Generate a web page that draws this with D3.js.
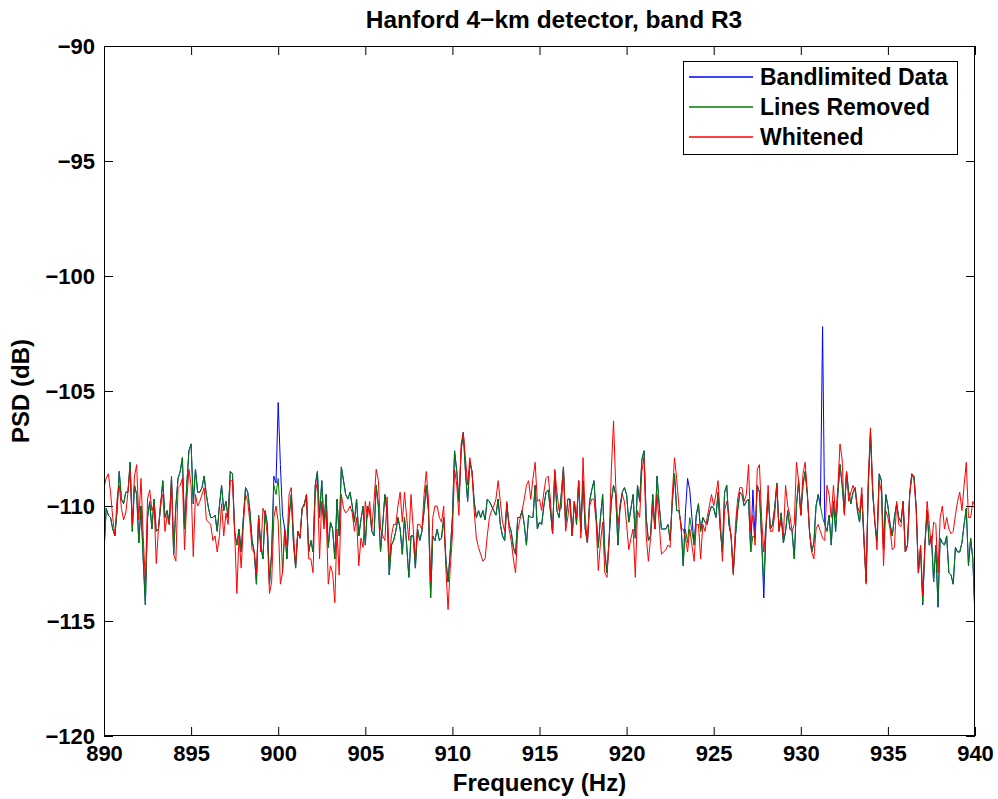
<!DOCTYPE html>
<html>
<head>
<meta charset="utf-8">
<script src="https://cdn.jsdelivr.net/npm/d3@7"></script>
<style>
  body { margin: 0; background: #fff; }
  svg { display: block; }
  text { font-family: "Liberation Sans", Arial, Helvetica, sans-serif; font-weight: bold; fill: #000; }
</style>
</head>
<body>
<svg id="chart" width="998" height="799"></svg>
<script>
// Spectrum grid: 1/8 Hz bins from 890 Hz to 940 Hz
const freqStart = 890;
const freqStep = 0.125;

// PSD (dB) of the band-limited strain data
const bandlimited = [
  -112.0,-110.1,-110.4,-110.5,-111.0,-111.3,-110.2,-108.5,-109.7,-109.9,
  -109.4,-109.4,-108.1,-111.1,-109.1,-109.5,-111.6,-110.0,-112.3,-114.3,
  -110.5,-109.8,-111.0,-109.7,-111.1,-111.0,-110.0,-108.9,-110.5,-110.2,
  -110.8,-108.7,-112.1,-110.0,-108.8,-108.5,-107.9,-111.0,-109.1,-107.6,
  -107.3,-109.9,-108.4,-109.4,-109.4,-109.2,-108.7,-109.5,-110.1,-110.5,
  -110.5,-110.4,-111.1,-110.0,-109.1,-110.2,-109.8,-110.5,-108.5,-108.6,
  -111.1,-111.7,-111.0,-112.0,-110.5,-109.2,-109.4,-110.2,-111.5,-112.0,
  -113.4,-110.4,-111.7,-112.3,-110.2,-110.8,-113.4,-112.0,-108.7,-109.0,
  -105.5,-108.2,-110.4,-111.0,-112.3,-110.5,-109.5,-111.6,-112.7,-111.1,
  -111.4,-110.1,-109.9,-109.5,-112.0,-111.5,-112.0,-109.1,-108.5,-110.5,
  -108.9,-110.8,-109.5,-111.8,-110.7,-111.0,-112.3,-109.7,-111.3,-108.3,
  -108.9,-109.5,-109.7,-109.4,-110.0,-110.7,-109.7,-111.3,-110.6,-110.0,
  -111.7,-110.0,-110.2,-111.1,-111.3,-109.1,-110.0,-112.0,-110.8,-109.5,
  -110.3,-113.0,-111.7,-111.5,-111.1,-110.5,-111.0,-112.1,-110.5,-111.7,
  -113.1,-111.3,-111.3,-112.7,-111.0,-111.5,-111.1,-110.2,-109.1,-110.2,
  -114.0,-111.3,-111.5,-111.0,-111.5,-111.4,-110.5,-112.3,-113.3,-112.0,
  -110.5,-107.6,-108.5,-109.8,-107.6,-106.8,-108.5,-109.8,-108.1,-108.5,
  -109.8,-110.5,-110.2,-110.5,-110.2,-110.6,-109.7,-109.8,-110.0,-110.2,
  -110.4,-109.7,-110.8,-111.3,-111.5,-109.9,-110.8,-111.1,-111.8,-112.1,
  -110.5,-110.5,-110.2,-110.8,-111.7,-110.4,-110.5,-110.5,-109.1,-111.0,
  -110.7,-110.8,-110.0,-109.4,-109.3,-110.2,-111.2,-108.5,-110.2,-110.5,
  -109.5,-108.3,-110.8,-109.7,-109.7,-111.3,-109.8,-110.8,-108.9,-111.1,
  -108.9,-111.0,-111.6,-109.8,-109.3,-108.9,-110.4,-111.8,-110.5,-109.5,
  -112.0,-112.9,-111.4,-109.8,-109.1,-109.5,-111.7,-110.0,-109.4,-109.2,
  -109.5,-110.7,-110.1,-109.5,-111.4,-109.1,-109.8,-108.0,-107.6,-110.5,
  -111.5,-111.3,-109.5,-111.0,-108.7,-110.0,-111.0,-111.0,-111.0,-110.8,
  -111.5,-109.8,-108.6,-110.2,-110.2,-110.8,-112.6,-110.3,-108.8,-109.3,
  -110.5,-111.7,-110.4,-109.9,-111.1,-110.5,-110.7,-110.8,-110.3,-110.0,
  -110.1,-110.5,-109.4,-111.0,-112.0,-109.4,-109.1,-110.8,-111.3,-112.9,
  -111.3,-110.2,-109.4,-109.5,-110.0,-109.8,-109.7,-112.0,-109.3,-111.4,
  -109.1,-109.4,-111.4,-114.0,-111.0,-109.5,-111.0,-110.8,-110.1,-109.0,
  -111.1,-110.3,-111.6,-111.1,-110.2,-111.0,-111.1,-112.3,-110.0,-108.9,
  -110.4,-109.1,-108.5,-109.5,-111.1,-112.0,-111.6,-110.0,-109.5,-110.0,
  -102.2,-110.8,-111.1,-110.4,-111.7,-109.8,-111.1,-109.5,-108.2,-109.1,
  -110.3,-108.5,-109.4,-109.9,-109.4,-109.2,-110.2,-110.7,-109.5,-111.5,
  -113.3,-109.1,-106.8,-109.4,-110.7,-111.5,-108.6,-108.9,-111.9,-109.5,
  -110.0,-110.8,-111.3,-110.5,-109.9,-110.5,-110.7,-109.8,-112.0,-111.7,
  -109.5,-108.6,-108.7,-110.1,-112.9,-111.8,-114.3,-111.7,-110.2,-111.7,
  -111.3,-113.3,-111.7,-114.4,-111.4,-111.6,-111.7,-111.3,-112.9,-113.0,
  -113.4,-111.8,-112.0,-112.0,-111.6,-110.8,-110.1,-112.6,-111.4,-112.3,
  -114.9
];

// PSD (dB) after removal of the instrumental lines
const linesRemoved = [
  -112.0,-110.1,-110.4,-110.5,-111.0,-111.3,-110.2,-108.5,-109.7,-109.9,
  -109.4,-109.4,-108.1,-111.1,-109.1,-109.5,-111.6,-110.0,-112.3,-114.3,
  -110.5,-109.8,-111.0,-109.7,-111.1,-111.0,-110.0,-108.9,-110.5,-110.2,
  -110.8,-108.7,-112.1,-110.0,-108.8,-108.5,-107.9,-111.0,-109.1,-107.6,
  -107.3,-109.9,-108.4,-109.4,-109.4,-109.2,-108.7,-109.5,-110.1,-110.5,
  -110.5,-110.4,-111.1,-110.0,-109.1,-110.2,-109.8,-110.5,-108.5,-108.6,
  -111.1,-111.7,-111.0,-112.0,-110.5,-109.2,-109.4,-110.2,-111.5,-112.0,
  -113.4,-110.4,-111.7,-112.3,-110.2,-110.8,-113.4,-112.0,-109.1,-109.5,
  -108.8,-110.5,-112.9,-111.0,-112.3,-110.5,-109.5,-111.6,-112.7,-111.1,
  -111.4,-110.1,-109.9,-109.5,-112.0,-111.5,-112.0,-109.1,-108.5,-110.5,
  -108.9,-110.8,-109.5,-111.8,-110.7,-111.0,-112.3,-109.7,-111.3,-108.3,
  -108.9,-109.5,-109.7,-109.4,-110.0,-110.7,-109.7,-111.3,-110.6,-110.0,
  -111.7,-110.0,-110.2,-111.1,-111.3,-109.1,-110.0,-112.0,-110.8,-109.5,
  -110.3,-113.0,-111.7,-111.5,-111.1,-110.5,-111.0,-112.1,-110.5,-111.7,
  -113.1,-111.3,-111.3,-112.7,-111.0,-111.5,-111.1,-110.2,-109.1,-110.2,
  -114.0,-111.3,-111.5,-111.0,-111.5,-111.4,-110.5,-112.3,-113.3,-112.0,
  -110.5,-107.6,-108.5,-109.8,-107.6,-106.8,-108.5,-109.8,-108.1,-108.5,
  -109.8,-110.5,-110.2,-110.5,-110.2,-110.6,-109.7,-109.8,-110.0,-110.2,
  -110.4,-109.7,-110.8,-111.3,-111.5,-109.9,-110.8,-111.1,-111.8,-112.1,
  -110.5,-110.5,-110.2,-110.8,-111.7,-110.4,-110.5,-110.5,-109.1,-111.0,
  -110.7,-110.8,-110.0,-109.4,-109.3,-110.2,-111.2,-108.5,-110.2,-110.5,
  -109.5,-108.3,-110.8,-109.7,-109.7,-111.3,-109.8,-110.8,-108.9,-111.1,
  -108.9,-111.0,-111.6,-109.8,-109.3,-108.9,-110.4,-111.8,-110.5,-109.5,
  -112.0,-112.9,-111.4,-109.8,-109.1,-109.5,-111.7,-110.0,-109.4,-109.2,
  -109.5,-110.7,-110.1,-109.5,-111.4,-109.1,-109.8,-108.0,-107.6,-110.5,
  -111.5,-111.3,-109.5,-111.0,-108.7,-110.0,-111.0,-111.0,-111.0,-110.8,
  -111.5,-109.8,-108.6,-110.2,-110.2,-110.8,-112.6,-111.0,-111.6,-110.5,
  -111.1,-111.7,-110.4,-109.9,-111.1,-110.5,-110.7,-110.8,-110.3,-110.0,
  -110.1,-110.5,-109.4,-111.0,-112.0,-109.4,-109.1,-110.8,-111.3,-112.9,
  -111.3,-110.2,-109.4,-109.5,-110.0,-109.8,-109.7,-112.0,-111.3,-111.4,
  -109.1,-109.4,-111.4,-113.4,-111.0,-109.5,-111.0,-110.8,-110.1,-109.0,
  -111.1,-110.3,-111.6,-111.1,-110.2,-111.0,-111.1,-112.3,-110.0,-108.9,
  -110.4,-109.1,-108.5,-109.5,-111.1,-112.0,-111.6,-110.0,-109.5,-110.0,
  -110.5,-110.8,-111.1,-110.4,-111.7,-109.8,-111.1,-109.5,-108.2,-109.1,
  -110.3,-108.5,-109.4,-109.9,-109.4,-109.2,-110.2,-110.7,-109.5,-111.5,
  -113.3,-109.1,-106.8,-109.4,-110.7,-111.5,-108.6,-108.9,-111.9,-109.5,
  -110.0,-110.8,-111.3,-110.5,-109.9,-110.5,-110.7,-109.8,-112.0,-111.7,
  -109.5,-108.6,-108.7,-110.1,-112.9,-111.8,-114.2,-111.7,-110.2,-111.7,
  -111.3,-113.3,-111.7,-114.3,-111.4,-111.6,-111.7,-111.3,-112.9,-113.0,
  -113.4,-111.8,-112.0,-112.0,-111.6,-110.8,-110.1,-112.6,-111.4,-112.3,
  -114.8
];

// PSD (dB) of the whitened data
const whitened = [
  -109.2,-108.8,-108.6,-109.4,-110.5,-111.3,-109.7,-109.1,-110.1,-110.6,
  -110.3,-109.4,-108.4,-110.8,-108.7,-108.2,-110.6,-108.8,-111.3,-113.3,
  -109.7,-109.3,-110.2,-109.9,-112.5,-111.0,-109.8,-109.5,-111.1,-110.4,
  -110.8,-108.9,-112.1,-112.4,-109.2,-109.1,-108.8,-111.9,-109.8,-108.4,
  -109.1,-112.2,-109.5,-110.0,-109.8,-109.5,-109.2,-110.6,-110.7,-110.8,
  -111.5,-111.3,-112.0,-111.3,-109.9,-111.3,-110.3,-110.8,-108.9,-108.9,
  -111.1,-113.8,-111.3,-112.7,-110.8,-109.5,-109.8,-110.7,-111.9,-112.0,
  -112.9,-110.5,-112.0,-110.1,-110.4,-111.3,-113.8,-113.3,-110.5,-110.0,
  -110.7,-113.4,-112.9,-111.0,-111.7,-109.5,-109.2,-111.1,-112.6,-111.1,
  -111.4,-110.1,-110.0,-109.5,-112.3,-112.3,-112.9,-109.5,-108.9,-112.3,
  -109.8,-111.0,-110.2,-113.4,-112.6,-112.9,-114.2,-111.0,-113.0,-109.5,
  -110.1,-110.3,-110.2,-110.0,-110.3,-111.1,-110.5,-112.6,-111.4,-111.8,
  -109.8,-110.5,-109.8,-111.0,-109.8,-108.4,-108.9,-111.0,-111.3,-111.5,
  -109.6,-112.4,-111.3,-110.8,-110.8,-110.0,-109.4,-110.7,-109.4,-110.5,
  -111.5,-109.5,-111.0,-112.3,-110.8,-110.8,-111.0,-109.5,-108.5,-109.7,
  -113.3,-110.5,-110.0,-110.0,-110.5,-110.7,-110.0,-112.7,-114.5,-112.7,
  -111.3,-108.4,-109.1,-110.4,-107.3,-106.8,-107.9,-109.1,-107.9,-108.5,
  -110.2,-111.4,-111.8,-112.1,-112.4,-112.3,-111.3,-110.5,-110.2,-110.0,
  -109.7,-108.9,-109.8,-110.7,-111.1,-109.8,-111.0,-111.5,-112.3,-112.9,
  -111.1,-110.6,-110.2,-109.7,-109.1,-108.9,-109.7,-108.8,-108.1,-109.8,
  -109.7,-110.2,-109.4,-108.8,-108.7,-109.7,-111.2,-108.4,-109.4,-110.2,
  -110.1,-108.4,-111.1,-110.5,-109.7,-111.3,-109.8,-110.5,-108.9,-111.4,
  -107.9,-110.5,-111.6,-110.0,-109.7,-109.7,-110.7,-112.8,-111.6,-110.7,
  -112.9,-113.1,-111.4,-108.4,-106.3,-109.1,-110.8,-110.1,-109.5,-109.8,
  -110.8,-111.9,-111.4,-111.0,-113.1,-110.2,-110.5,-108.5,-107.9,-111.3,
  -112.4,-111.4,-110.0,-111.0,-109.5,-110.8,-112.1,-112.0,-111.9,-111.7,
  -111.8,-109.5,-107.9,-108.8,-110.0,-111.0,-111.0,-111.4,-112.0,-111.0,
  -111.7,-112.4,-110.8,-110.8,-112.3,-110.8,-111.1,-110.5,-110.0,-109.5,
  -110.0,-109.5,-108.9,-110.5,-112.4,-110.2,-109.8,-110.4,-111.4,-113.0,
  -110.8,-109.7,-109.2,-109.2,-109.8,-109.5,-108.2,-111.1,-110.4,-111.7,
  -108.4,-108.2,-110.5,-112.0,-110.8,-109.1,-111.1,-111.1,-110.4,-109.1,
  -111.1,-110.6,-111.4,-109.1,-110.0,-110.4,-111.1,-110.8,-108.1,-108.9,
  -110.4,-108.6,-108.1,-109.4,-111.1,-112.0,-112.3,-111.0,-110.8,-111.1,
  -111.4,-111.5,-109.1,-109.5,-110.5,-109.1,-110.5,-109.2,-107.3,-108.0,
  -110.4,-108.5,-109.8,-109.4,-109.1,-109.4,-110.0,-110.3,-109.2,-111.3,
  -113.4,-108.8,-106.6,-109.1,-110.7,-111.9,-108.9,-109.4,-112.6,-110.2,
  -110.5,-111.0,-111.9,-111.8,-109.8,-110.8,-110.9,-109.8,-112.0,-111.7,
  -109.5,-108.6,-108.9,-110.1,-112.9,-111.7,-113.9,-111.7,-109.8,-110.8,
  -111.8,-110.7,-110.8,-112.9,-110.5,-110.0,-111.0,-110.5,-111.0,-111.2,
  -111.1,-110.4,-109.8,-109.4,-110.2,-109.1,-108.1,-110.5,-110.5,-109.8,
  -110.0
];

const seriesNames = ["Bandlimited Data", "Lines Removed", "Whitened"];
const seriesColors = ["#0000ff", "#008000", "#ff0000"];
const xTicks = [890, 895, 900, 905, 910, 915, 920, 925, 930, 935, 940];
const yTicks = [-120, -115, -110, -105, -100, -95, -90];

const svg = d3.select("#chart");
const W = 998, H = 799;
const margin = { top: 46, right: 23, bottom: 63, left: 104 };
const pw = W - margin.left - margin.right;
const ph = H - margin.top - margin.bottom;

const x = d3.scaleLinear().domain([890, 940]).range([margin.left, margin.left + pw]);
const y = d3.scaleLinear().domain([-120, -90]).range([margin.top + ph, margin.top]);

const tickFont = 22;
const labelFont = 24;
const legendFont = 23;
const minusFmt = d => String(d).replace("-", "\u2212");

// Axes with inward ticks on all four sides
const gx = svg.append("g").attr("transform", `translate(0,${margin.top + ph})`)
  .call(d3.axisBottom(x).tickValues(xTicks).tickSizeInner(-9).tickSizeOuter(0).tickPadding(9).tickFormat(d3.format("d")));
const gy = svg.append("g").attr("transform", `translate(${margin.left},0)`)
  .call(d3.axisLeft(y).tickValues(yTicks).tickSizeInner(-9).tickSizeOuter(0).tickPadding(9).tickFormat(minusFmt));
const gt = svg.append("g").attr("transform", `translate(0,${margin.top})`)
  .call(d3.axisTop(x).tickValues(xTicks).tickSizeInner(-9).tickSizeOuter(0).tickFormat(""));
const gr = svg.append("g").attr("transform", `translate(${margin.left + pw},0)`)
  .call(d3.axisRight(y).tickValues(yTicks).tickSizeInner(-9).tickSizeOuter(0).tickFormat(""));

[gx, gy, gt, gr].forEach(g => {
  g.select(".domain").remove();
  g.selectAll(".tick line").attr("stroke", "#000").attr("stroke-width", 1);
  g.selectAll("text").attr("font-size", tickFont).attr("font-family", null).attr("fill", "#000");
});

// Data lines
const clipId = "plot-clip";
svg.append("clipPath").attr("id", clipId)
  .append("rect").attr("x", margin.left).attr("y", margin.top).attr("width", pw).attr("height", ph);

const line = d3.line()
  .x((d, i) => x(freqStart + i * freqStep))
  .y(d => y(d));

const plot = svg.append("g").attr("clip-path", `url(#${clipId})`);
[bandlimited, linesRemoved, whitened].forEach((vals, k) => {
  plot.append("path")
    .datum(vals)
    .attr("d", line)
    .attr("fill", "none")
    .attr("stroke", seriesColors[k])
    .attr("stroke-width", 1)
    .attr("stroke-linejoin", "round");
});

// Plot frame
svg.append("rect")
  .attr("x", margin.left + 0.5).attr("y", margin.top + 0.5)
  .attr("width", pw - 1).attr("height", ph - 1)
  .attr("fill", "none").attr("stroke", "#000").attr("stroke-width", 1);

// Title and axis labels
svg.append("text")
  .attr("x", 554).attr("y", 28)
  .attr("text-anchor", "middle").attr("font-size", 24.5)
  .text("Hanford 4\u2212km detector, band R3");

svg.append("text")
  .attr("x", margin.left + pw / 2).attr("y", 791)
  .attr("text-anchor", "middle").attr("font-size", labelFont)
  .text("Frequency (Hz)");

svg.append("text")
  .attr("transform", `translate(29,${margin.top + ph / 2}) rotate(-90)`)
  .attr("text-anchor", "middle").attr("font-size", labelFont)
  .text("PSD (dB)");

// Legend
const lg = svg.append("g").attr("transform", "translate(683,61)");
lg.append("rect")
  .attr("x", 0.5).attr("y", 0.5).attr("width", 274).attr("height", 93)
  .attr("fill", "#fff").attr("stroke", "#000").attr("stroke-width", 1);
seriesNames.forEach((name, k) => {
  const cy = 16 + k * 30;
  lg.append("line")
    .attr("x1", 6).attr("x2", 70).attr("y1", cy).attr("y2", cy)
    .style("stroke", seriesColors[k]).style("stroke-width", 1.5);
  lg.append("text")
    .attr("x", 77).attr("y", cy).attr("dy", "0.36em")
    .attr("font-size", legendFont)
    .text(name);
});
</script>
</body>
</html>
